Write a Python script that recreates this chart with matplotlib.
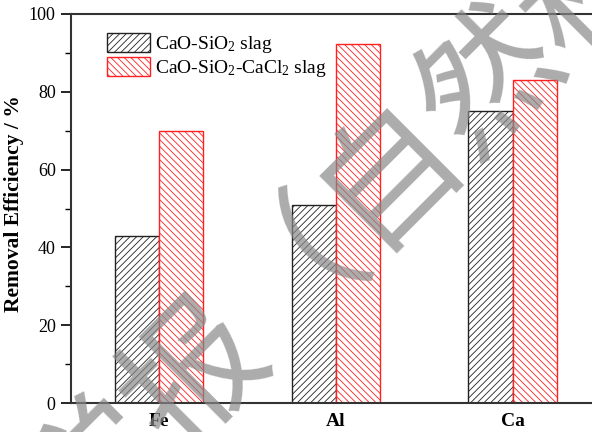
import matplotlib
matplotlib.use("Agg")
import numpy as np
import matplotlib.pyplot as plt

elements = ["Fe", "Al", "Ca"]
sio2_slag = [43.0, 51.0, 75.0]
cacl2_slag = [70.0, 92.3, 83.0]
labels = ["CaO-SiO$_2$ slag", "CaO-SiO$_2$-CaCl$_2$ slag"]
yticks = [0, 20, 40, 60, 80, 100]

plt.rcParams["font.family"] = ["Liberation Serif", "DejaVu Serif"]
plt.rcParams["mathtext.fontset"] = "custom"
plt.rcParams["mathtext.rm"] = "Liberation Serif"
plt.rcParams["mathtext.it"] = "Liberation Serif:italic"
plt.rcParams["mathtext.bf"] = "Liberation Serif:bold"
plt.rcParams["mathtext.default"] = "regular"
plt.rcParams["hatch.linewidth"] = 0.6

fig = plt.figure(figsize=(5.92, 4.32), dpi=100)
ax = fig.add_axes([71 / 592, 29 / 432, 530 / 592, 389 / 432])

x = np.arange(len(elements))
w = 0.25
ax.bar(x - w / 2, sio2_slag, w, color="white", edgecolor="#222222",
       hatch="/////", linewidth=1.0, label=labels[0])
ax.bar(x + w / 2, cacl2_slag, w, color="white", edgecolor="#ff2020",
       hatch="\\\\\\\\\\", linewidth=1.0, label=labels[1])

ax.set_xlim(-0.5, 2.5)
ax.set_ylim(0, 100)
ax.set_xticks(x)
ax.set_xticklabels(elements, fontsize=14, fontweight="bold")
ax.set_yticks(yticks)
ax.set_yticks(np.arange(10, 100, 20), minor=True)
ax.tick_params(axis="y", labelsize=13, direction="out", length=7, width=1.2, pad=4)
ax.tick_params(axis="y", which="minor", direction="out", length=4, width=1.0)
ax.tick_params(axis="x", length=0, pad=7)
ax.set_ylabel("Removal Efficiency / %", fontsize=15.5, fontweight="bold")
ax.yaxis.set_label_coords((24 - 71) / 530, (403 - 204) / 389)

for s in ax.spines.values():
    s.set_linewidth(1.5)
    s.set_color("#333333")

ax.legend(loc="upper left", bbox_to_anchor=(0.053, 0.972), borderaxespad=0,
          frameon=False, fontsize=14, handlelength=2.2, handleheight=1.13,
          labelspacing=0.1, handletextpad=0.3)

# watermark
fig.text(492 / 592, 1 - 80 / 432, "学报（自然科学版）", fontsize=100,
         family=["Noto Sans CJK SC", "DejaVu Sans"],
         color="#888888", alpha=0.7, rotation=45, rotation_mode="anchor",
         ha="center", va="center")

fig.savefig("out.png", dpi=100)
